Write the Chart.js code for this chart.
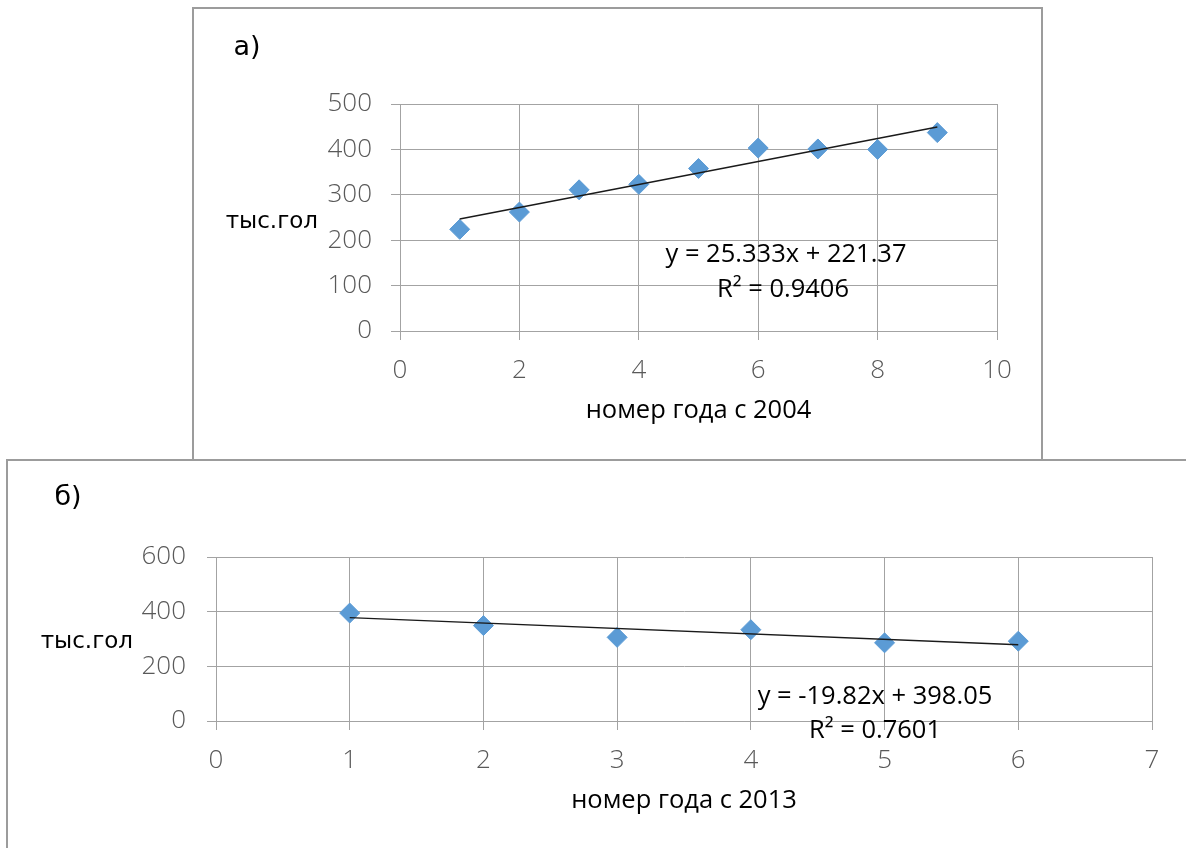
<!DOCTYPE html>
<html lang="ru">
<head>
<meta charset="utf-8">
<title>Поголовье, тыс. гол</title>
<script src="https://cdn.jsdelivr.net/npm/chart.js@4.4.1/dist/chart.umd.min.js"></script>
<style>
  html, body { margin: 0; padding: 0; background: #fff; width: 1186px; height: 848px; overflow: hidden; }
  body { position: relative; }
  .frame { position: absolute; box-sizing: border-box; border: 2px solid #9c9c9c; }
  #frame-a { left: 192px; top: 7px; width: 851px; height: 454px; }
  #frame-b { left: 6px; top: 459px; width: 1240px; height: 440px; }
  canvas { position: absolute; }
  #chart-a { left: 194px; top: 9px; }
  #chart-b { left: 8px; top: 461px; }
</style>
</head>
<body>
<div class="frame" id="frame-a"></div>
<div class="frame" id="frame-b"></div>
<canvas id="chart-a" width="847" height="450"></canvas>
<canvas id="chart-b" width="1178" height="387"></canvas>
<script>
'use strict';

// ==================== DATA ====================

// а) 2004 onwards
const yearsA = [1, 2, 3, 4, 5, 6, 7, 8, 9];
const headsA = [224, 262, 311, 323, 358, 403, 401, 400, 437];
const trendXA = [1, 9];
const trendYA = [246.7, 449.4];
const eqA = ['y = 25.333x + 221.37', 'R² = 0.9406'];

// б) 2013 onwards
const yearsB = [1, 2, 3, 4, 5, 6];
const headsB = [395, 349, 306, 334, 286, 292];
const trendXB = [1, 6];
const trendYB = [378.2, 279.1];
const eqB = ['y = -19.82x + 398.05', 'R² = 0.7601'];

const yUnit = 'тыс.гол';
const xTitleA = 'номер года с 2004';
const xTitleB = 'номер года с 2013';

// ==================== STYLE ====================

const GRID = '#a3a3a3';
const MARKER = '#5b9bd5';
const TICK_FONT = { family: "'Open Sans', Lato, sans-serif", size: 26, weight: '300' };
const TICK_COLOR = '#595959';
const TEXT_FONT = "25.5px 'Open Sans', sans-serif";
const LABEL_FONT = "23px 'DejaVu Sans', sans-serif";
const PANEL_FONT = "27px 'DejaVu Sans', sans-serif";

// free text drawn on top of the chart (panel letter, unit, trend equation)
const freeText = {
    id: 'freeText',
    afterDraw(chart, args, opts) {
        const ctx = chart.ctx;
        (opts.items || []).forEach(it => {
            ctx.save();
            ctx.font = it.font;
            ctx.fillStyle = it.color || '#000';
            ctx.textAlign = it.align || 'center';
            ctx.textBaseline = 'middle';
            ctx.fillText(it.text, it.x, it.y);
            ctx.restore();
        });
    }
};

function toPoints(xs, ys) {
    return xs.map((x, i) => ({ x: x, y: ys[i] }));
}

function renderPanel(id, p) {
    const ctx = document.getElementById(id).getContext('2d');
    return new Chart(ctx, {
        type: 'scatter',
        data: {
            datasets: [
                {
                    label: 'trend',
                    data: toPoints(p.trendX, p.trendY),
                    showLine: true,
                    borderColor: '#1a1a1a',
                    borderWidth: 1.4,
                    pointRadius: 0,
                    order: 0
                },
                {
                    label: 'data',
                    data: toPoints(p.xs, p.ys),
                    pointStyle: 'rectRot',
                    pointRadius: 10,
                    backgroundColor: MARKER,
                    borderColor: MARKER,
                    borderWidth: 1,
                    order: 1
                }
            ]
        },
        options: {
            responsive: false,
            animation: false,
            layout: { padding: { left: 0, top: p.padTop, right: p.padRight, bottom: 0 } },
            scales: {
                x: {
                    type: 'linear',
                    min: 0,
                    max: p.xMax,
                    ticks: { stepSize: p.xStep, color: TICK_COLOR, font: TICK_FONT, padding: 15, maxRotation: 0 },
                    grid: { color: GRID, lineWidth: 1, tickLength: 9 },
                    border: { color: GRID, width: 1 },
                    title: {
                        display: true,
                        text: p.xTitle,
                        color: '#000',
                        font: { family: "'Open Sans', sans-serif", size: 25.5 },
                        padding: { top: 0, bottom: p.titlePad }
                    },
                    afterFit: function(scale) { scale.height = p.xHeight; }
                },
                y: {
                    min: 0,
                    max: p.yMax,
                    ticks: { stepSize: p.yStep, color: TICK_COLOR, font: TICK_FONT, padding: p.yPad },
                    grid: { color: GRID, lineWidth: 1, tickLength: 9 },
                    border: { color: GRID, width: 1 },
                    afterFit: function(scale) { scale.width = p.yWidth; }
                }
            },
            plugins: {
                legend: { display: false },
                tooltip: { enabled: false },
                freeText: { items: p.texts }
            }
        },
        plugins: [freeText]
    });
}

// ==================== PANEL а) ====================

renderPanel('chart-a', {
    xs: yearsA, ys: headsA, trendX: trendXA, trendY: trendYA,
    xMax: 10, xStep: 2, yMax: 500, yStep: 100,
    padTop: 95, padRight: 44, yWidth: 206, xHeight: 128, yPad: 19, titlePad: 33,
    xTitle: xTitleA,
    texts: [
        { text: 'а)', x: 53, y: 39, font: PANEL_FONT },
        { text: yUnit, x: 124, y: 213, font: LABEL_FONT, align: 'right' },
        { text: eqA[0], x: 592, y: 246, font: TEXT_FONT },
        { text: eqA[1], x: 589, y: 281, font: TEXT_FONT }
    ]
});

// ==================== PANEL б) ====================

renderPanel('chart-b', {
    xs: yearsB, ys: headsB, trendX: trendXB, trendY: trendYB,
    xMax: 7, xStep: 1, yMax: 600, yStep: 200,
    padTop: 96, padRight: 34, yWidth: 208, xHeight: 127, yPad: 21, titlePad: 32,
    xTitle: xTitleB,
    texts: [
        { text: 'б)', x: 60, y: 37, font: PANEL_FONT },
        { text: yUnit, x: 125, y: 181, font: LABEL_FONT, align: 'right' },
        { text: eqB[0], x: 867, y: 236, font: TEXT_FONT },
        { text: eqB[1], x: 867, y: 270, font: TEXT_FONT }
    ]
});
</script>
</body>
</html>
